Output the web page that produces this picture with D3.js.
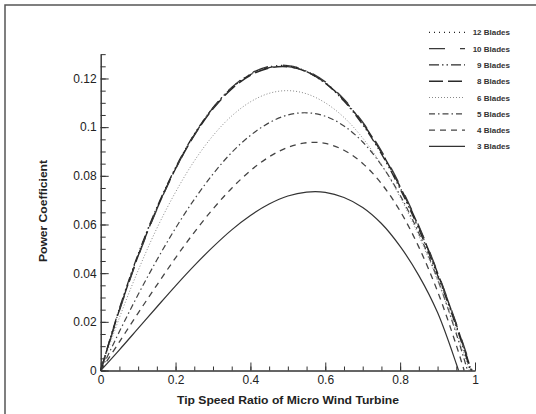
<!DOCTYPE html>
<html>
  <head>
    <meta charset="utf-8">
    <title>Power Coefficient</title>
    <style>
    body { margin: 0; background: #fff; }
    svg { font-family: "Liberation Sans", Arial, sans-serif; }
    .axis text { font-size: 12px; fill: #222; }
    .axis path, .axis line { stroke: #333; }
    .legend text { font-size: 8px; font-weight: bold; fill: #333; }
    .title { font-size: 10.5px; font-weight: bold; fill: #222; }
    </style>
  </head>
  <body>
    <svg width="536" height="414"></svg>
    <script src="https://d3js.org/d3.v7.min.js"></script>
    <script>

      // tip speed ratio grid (shared by all series)
      var tsr = [0, 0.05, 0.1, 0.15, 0.2, 0.25, 0.3, 0.35, 0.4, 0.45,
                 0.5, 0.55, 0.6, 0.65, 0.7, 0.75, 0.8, 0.85, 0.9, 0.95];

      var labels = ["12 Blades", "10 Blades", "9 Blades", "8 Blades",
                    "6 Blades", "5 Blades", "4 Blades", "3 Blades"];

      // where each curve comes back to zero
      var zeroAt = [0.99, 0.992, 0.988, 0.99, 0.985, 0.98, 0.971, 0.956];

      var cp12 = [0, 0.0251, 0.0474, 0.0667, 0.0832, 0.0970, 0.1079, 0.1162, 0.1218, 0.1248,
                  0.1252, 0.1230, 0.1183, 0.1111, 0.1015, 0.0896, 0.0752, 0.0586, 0.0397, 0.0185];
      var cp10 = [0, 0.0246, 0.0468, 0.0662, 0.0829, 0.0968, 0.1079, 0.1163, 0.1220, 0.1250,
                  0.1253, 0.1232, 0.1186, 0.1115, 0.1020, 0.0902, 0.0760, 0.0594, 0.0404, 0.0192];
      var cp9  = [0, 0.0255, 0.0478, 0.0670, 0.0834, 0.0971, 0.1080, 0.1161, 0.1216, 0.1245,
                  0.1249, 0.1228, 0.1180, 0.1107, 0.1010, 0.0890, 0.0746, 0.0580, 0.0391, 0.0180];
      var cp8  = [0, 0.0249, 0.0471, 0.0664, 0.0829, 0.0966, 0.1075, 0.1157, 0.1213, 0.1243,
                  0.1248, 0.1228, 0.1182, 0.1111, 0.1016, 0.0897, 0.0755, 0.0590, 0.0401, 0.0189];
      var cp6  = [0, 0.0217, 0.0411, 0.0584, 0.0733, 0.0861, 0.0965, 0.1046, 0.1104, 0.1139,
                  0.1150, 0.1137, 0.1100, 0.1040, 0.0955, 0.0846, 0.0712, 0.0553, 0.0370, 0.0161];
      var cp5  = [0, 0.0160, 0.0312, 0.0454, 0.0585, 0.0703, 0.0807, 0.0896, 0.0966, 0.1018,
                  0.1050, 0.1059, 0.1045, 0.1005, 0.0939, 0.0844, 0.0720, 0.0564, 0.0375, 0.0151];
      var cp4  = [0, 0.0118, 0.0236, 0.0351, 0.0463, 0.0568, 0.0664, 0.0749, 0.0821, 0.0878,
                  0.0917, 0.0936, 0.0933, 0.0905, 0.0851, 0.0768, 0.0655, 0.0507, 0.0325, 0.0104];
      var cp3  = [0, 0.0085, 0.0173, 0.0261, 0.0348, 0.0431, 0.0508, 0.0578, 0.0637, 0.0684,
                  0.0717, 0.0733, 0.0732, 0.0711, 0.0670, 0.0604, 0.0510, 0.0390, 0.0238, 0.0028];

      var xTicks = [0, 0.2, 0.4, 0.6, 0.8, 1];
      var yTicks = [0, 0.02, 0.04, 0.06, 0.08, 0.1, 0.12];

      var seriesValues = [cp12, cp10, cp9, cp8, cp6, cp5, cp4, cp3];

      // line styles, same order as labels
      var styles = [
        {dash: "1,4", color: "#222", w: 1.2},
        {dash: "16,15", color: "#3a3a3a", w: 1.4},
        {dash: "10,3,1.5,3,1.5,3", color: "#2a2a2a", w: 1.3},
        {dash: "14,5", color: "#2a2a2a", w: 1.4},
        {dash: "1,2", color: "#888", w: 1},
        {dash: "6,3,1.5,3", color: "#444", w: 1.2},
        {dash: "6,5", color: "#444", w: 1.3},
        {dash: null, color: "#333", w: 1.2}
      ];

      var svg = d3.select("svg");

      var x = d3.scaleLinear().domain([0, 1]).range([100.7, 475]),
          y = d3.scaleLinear().domain([0, 0.13]).range([370.5, 370.5 - 0.13 * 2433.5]);

      // outer frame (left and top edges only)
      svg.append("path")
          .attr("d", "M5,414V5H536")
          .attr("fill", "none")
          .attr("stroke", "#555")
          .attr("stroke-width", 1.5);

      var series = labels.map(function(name, i) {
        var pts = tsr.map(function(t, j) { return [t, seriesValues[i][j]]; });
        pts.push([zeroAt[i], 0]);
        return {name: name, points: pts, style: styles[i]};
      });

      var line = d3.line()
          .x(function(d) { return x(d[0]); })
          .y(function(d) { return y(d[1]); })
          .curve(d3.curveCatmullRom.alpha(0.5));

      svg.append("g").selectAll("path")
        .data(series.slice().reverse())
        .enter().append("path")
          .attr("d", function(d) { return line(d.points); })
          .attr("fill", "none")
          .attr("stroke", function(d) { return d.style.color; })
          .attr("stroke-width", function(d) { return d.style.w; })
          .attr("stroke-dasharray", function(d) { return d.style.dash; });

      // minor ticks
      svg.append("g")
          .attr("class", "axis")
          .attr("transform", "translate(0," + y(0) + ")")
          .call(d3.axisBottom(x).tickValues(d3.range(0, 1.001, 0.05)).tickSizeInner(-4).tickSizeOuter(0).tickFormat(""));
      svg.append("g")
          .attr("class", "axis")
          .attr("transform", "translate(" + x(0) + ",0)")
          .call(d3.axisLeft(y).tickValues(d3.range(0, 0.1301, 0.005)).tickSizeInner(-5).tickSizeOuter(0).tickFormat(""));

      // major ticks
      svg.append("g")
          .attr("class", "axis")
          .attr("transform", "translate(0," + y(0) + ")")
          .call(d3.axisBottom(x).tickValues(xTicks).tickSizeInner(-8).tickSizeOuter(0).tickPadding(4)
            .tickFormat(function(d) { return d3.format("")(d); }))
          .call(function(g) { g.selectAll("text").attr("dy", "0.85em").attr("y", 3); });
      svg.append("g")
          .attr("class", "axis")
          .attr("transform", "translate(" + x(0) + ",0)")
          .call(d3.axisLeft(y).tickValues(yTicks).tickSizeInner(-8).tickSizeOuter(0).tickPadding(0)
            .tickFormat(function(d) { return d3.format("")(+d.toFixed(2)); }))
          .call(function(g) { g.selectAll("text").attr("x", -4); });

      svg.selectAll(".axis path.domain").attr("stroke", "#333");
      svg.selectAll(".axis text").attr("font-family", "'Liberation Sans', Arial, sans-serif");

      // axis titles
      svg.append("text")
          .attr("class", "title")
          .attr("x", 288)
          .attr("y", 404)
          .attr("text-anchor", "middle")
          .attr("textLength", 222)
          .attr("lengthAdjust", "spacingAndGlyphs")
          .text("Tip Speed Ratio of Micro Wind Turbine");
      svg.append("text")
          .attr("class", "title")
          .attr("transform", "translate(47,211) rotate(-90)")
          .attr("text-anchor", "middle")
          .attr("textLength", 102)
          .attr("lengthAdjust", "spacingAndGlyphs")
          .text("Power Coefficient");

      // legend
      var legend = svg.append("g").attr("class", "legend");
      var rows = legend.selectAll("g")
        .data(series)
        .enter().append("g")
          .attr("transform", function(d, i) { return "translate(0," + (32.3 + i * 16.3) + ")"; });
      rows.append("line")
          .attr("x1", 429).attr("x2", 465)
          .attr("y1", 0).attr("y2", 0)
          .attr("stroke", function(d) { return d.style.color; })
          .attr("stroke-width", function(d) { return d.style.w; })
          .attr("stroke-dasharray", function(d) { return d.style.dash; });
      rows.append("text")
          .attr("x", 510)
          .attr("y", 3)
          .attr("text-anchor", "end")
          .text(function(d) { return d.name; });
    </script>
  </body>
</html>
